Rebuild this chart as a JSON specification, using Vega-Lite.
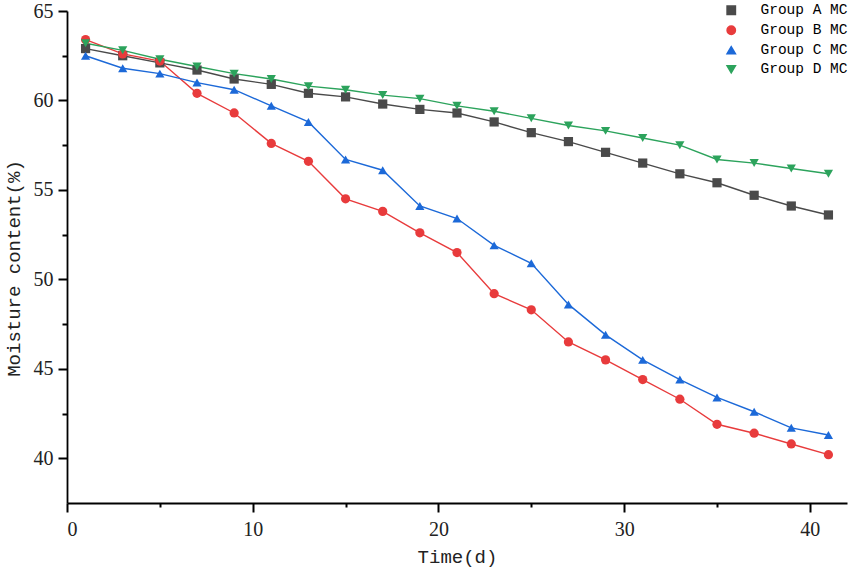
{
  "$schema": "https://vega.github.io/schema/vega-lite/v6.json",
  "width": 780,
  "height": 492,
  "autosize": "none",
  "padding": {"left": 67, "top": 11, "right": 4, "bottom": 71},
  "background": "white",
  "data": {
    "values": [
      {"day": 1, "group": "Group A MC", "mc": 62.9},
      {"day": 3, "group": "Group A MC", "mc": 62.5},
      {"day": 5, "group": "Group A MC", "mc": 62.1},
      {"day": 7, "group": "Group A MC", "mc": 61.7},
      {"day": 9, "group": "Group A MC", "mc": 61.2},
      {"day": 11, "group": "Group A MC", "mc": 60.9},
      {"day": 13, "group": "Group A MC", "mc": 60.4},
      {"day": 15, "group": "Group A MC", "mc": 60.2},
      {"day": 17, "group": "Group A MC", "mc": 59.8},
      {"day": 19, "group": "Group A MC", "mc": 59.5},
      {"day": 21, "group": "Group A MC", "mc": 59.3},
      {"day": 23, "group": "Group A MC", "mc": 58.8},
      {"day": 25, "group": "Group A MC", "mc": 58.2},
      {"day": 27, "group": "Group A MC", "mc": 57.7},
      {"day": 29, "group": "Group A MC", "mc": 57.1},
      {"day": 31, "group": "Group A MC", "mc": 56.5},
      {"day": 33, "group": "Group A MC", "mc": 55.9},
      {"day": 35, "group": "Group A MC", "mc": 55.4},
      {"day": 37, "group": "Group A MC", "mc": 54.7},
      {"day": 39, "group": "Group A MC", "mc": 54.1},
      {"day": 41, "group": "Group A MC", "mc": 53.6},
      {"day": 1, "group": "Group B MC", "mc": 63.4},
      {"day": 3, "group": "Group B MC", "mc": 62.6},
      {"day": 5, "group": "Group B MC", "mc": 62.2},
      {"day": 7, "group": "Group B MC", "mc": 60.4},
      {"day": 9, "group": "Group B MC", "mc": 59.3},
      {"day": 11, "group": "Group B MC", "mc": 57.6},
      {"day": 13, "group": "Group B MC", "mc": 56.6},
      {"day": 15, "group": "Group B MC", "mc": 54.5},
      {"day": 17, "group": "Group B MC", "mc": 53.8},
      {"day": 19, "group": "Group B MC", "mc": 52.6},
      {"day": 21, "group": "Group B MC", "mc": 51.5},
      {"day": 23, "group": "Group B MC", "mc": 49.2},
      {"day": 25, "group": "Group B MC", "mc": 48.3},
      {"day": 27, "group": "Group B MC", "mc": 46.5},
      {"day": 29, "group": "Group B MC", "mc": 45.5},
      {"day": 31, "group": "Group B MC", "mc": 44.4},
      {"day": 33, "group": "Group B MC", "mc": 43.3},
      {"day": 35, "group": "Group B MC", "mc": 41.9},
      {"day": 37, "group": "Group B MC", "mc": 41.4},
      {"day": 39, "group": "Group B MC", "mc": 40.8},
      {"day": 41, "group": "Group B MC", "mc": 40.2},
      {"day": 1, "group": "Group C MC", "mc": 62.5},
      {"day": 3, "group": "Group C MC", "mc": 61.8},
      {"day": 5, "group": "Group C MC", "mc": 61.5},
      {"day": 7, "group": "Group C MC", "mc": 61.0},
      {"day": 9, "group": "Group C MC", "mc": 60.6},
      {"day": 11, "group": "Group C MC", "mc": 59.7},
      {"day": 13, "group": "Group C MC", "mc": 58.8},
      {"day": 15, "group": "Group C MC", "mc": 56.7},
      {"day": 17, "group": "Group C MC", "mc": 56.1},
      {"day": 19, "group": "Group C MC", "mc": 54.1},
      {"day": 21, "group": "Group C MC", "mc": 53.4},
      {"day": 23, "group": "Group C MC", "mc": 51.9},
      {"day": 25, "group": "Group C MC", "mc": 50.9},
      {"day": 27, "group": "Group C MC", "mc": 48.6},
      {"day": 29, "group": "Group C MC", "mc": 46.9},
      {"day": 31, "group": "Group C MC", "mc": 45.5},
      {"day": 33, "group": "Group C MC", "mc": 44.4},
      {"day": 35, "group": "Group C MC", "mc": 43.4},
      {"day": 37, "group": "Group C MC", "mc": 42.6},
      {"day": 39, "group": "Group C MC", "mc": 41.7},
      {"day": 41, "group": "Group C MC", "mc": 41.3},
      {"day": 1, "group": "Group D MC", "mc": 63.2},
      {"day": 3, "group": "Group D MC", "mc": 62.8},
      {"day": 5, "group": "Group D MC", "mc": 62.3},
      {"day": 7, "group": "Group D MC", "mc": 61.9},
      {"day": 9, "group": "Group D MC", "mc": 61.5},
      {"day": 11, "group": "Group D MC", "mc": 61.2},
      {"day": 13, "group": "Group D MC", "mc": 60.8},
      {"day": 15, "group": "Group D MC", "mc": 60.6},
      {"day": 17, "group": "Group D MC", "mc": 60.3},
      {"day": 19, "group": "Group D MC", "mc": 60.1},
      {"day": 21, "group": "Group D MC", "mc": 59.7},
      {"day": 23, "group": "Group D MC", "mc": 59.4},
      {"day": 25, "group": "Group D MC", "mc": 59.0},
      {"day": 27, "group": "Group D MC", "mc": 58.6},
      {"day": 29, "group": "Group D MC", "mc": 58.3},
      {"day": 31, "group": "Group D MC", "mc": 57.9},
      {"day": 33, "group": "Group D MC", "mc": 57.5},
      {"day": 35, "group": "Group D MC", "mc": 56.7},
      {"day": 37, "group": "Group D MC", "mc": 56.5},
      {"day": 39, "group": "Group D MC", "mc": 56.2},
      {"day": 41, "group": "Group D MC", "mc": 55.9}
    ]
  },
  "layer": [
    {
      "mark": {"type": "line", "strokeWidth": 1.4},
      "encoding": {
        "x": {
          "field": "day", "type": "quantitative",
          "scale": {"domain": [0, 42], "nice": false, "zero": false},
          "axis": {
            "orient": "bottom", "values": [0, 10, 20, 30, 40], "title": "Time(d)",
            "ticks": true, "tickSize": 9, "tickWidth": 2, "tickColor": "black",
            "labelPadding": 7, "titlePadding": 8
          }
        },
        "y": {
          "field": "mc", "type": "quantitative",
          "scale": {"domain": [37.5, 65], "nice": false, "zero": false},
          "axis": {
            "orient": "left", "values": [40, 45, 50, 55, 60, 65], "title": "Moisture content(%)",
            "ticks": true, "tickSize": 9, "tickWidth": 2, "tickColor": "black",
            "labelPadding": 5, "titlePadding": 10, "titleY": 257
          }
        },
        "color": {
          "field": "group", "type": "nominal",
          "scale": {
            "domain": ["Group A MC", "Group B MC", "Group C MC", "Group D MC"],
            "range": ["#4a4a4a", "#e83b3c", "#1c69d8", "#2ca35c"]
          },
          "legend": {
            "title": null,
            "orient": "none",
            "legendX": 657,
            "legendY": -8,
            "symbolSize": 70,
            "symbolOpacity": 1,
            "labelOffset": 22,
            "rowPadding": 4,
            "labelFont": "Liberation Mono",
            "labelFontSize": 14.5,
            "labelColor": "black"
          }
        }
      }
    },
    {
      "mark": {"type": "point", "filled": true, "size": 85, "opacity": 1},
      "encoding": {
        "x": {
          "field": "day", "type": "quantitative",
          "axis": {"orient": "bottom", "values": [5, 15, 25, 35], "labels": false, "domain": false, "title": null, "ticks": true, "tickSize": 4, "tickWidth": 2, "tickColor": "black"}
        },
        "y": {
          "field": "mc", "type": "quantitative",
          "axis": {"orient": "left", "values": [42.5, 47.5, 52.5, 57.5, 62.5], "labels": false, "domain": false, "title": null, "ticks": true, "tickSize": 5, "tickWidth": 2, "tickColor": "black"}
        },
        "color": {"field": "group", "type": "nominal"},
        "shape": {
          "field": "group", "type": "nominal",
          "scale": {
            "domain": ["Group A MC", "Group B MC", "Group C MC", "Group D MC"],
            "range": ["square", "circle", "triangle-up", "triangle-down"]
          },
          "legend": null
        }
      }
    }
  ],
  "resolve": {"axis": {"x": "independent", "y": "independent"}},
  "config": {
    "view": {"stroke": null},
    "axis": {
      "grid": false,
      "domainColor": "black",
      "domainWidth": 1.8,
      "labelFont": "Liberation Serif",
      "labelFontSize": 20,
      "labelColor": "#222",
      "titleFont": "Liberation Mono",
      "titleFontSize": 19,
      "titleFontWeight": "normal",
      "titleColor": "#222"
    }
  }
}
